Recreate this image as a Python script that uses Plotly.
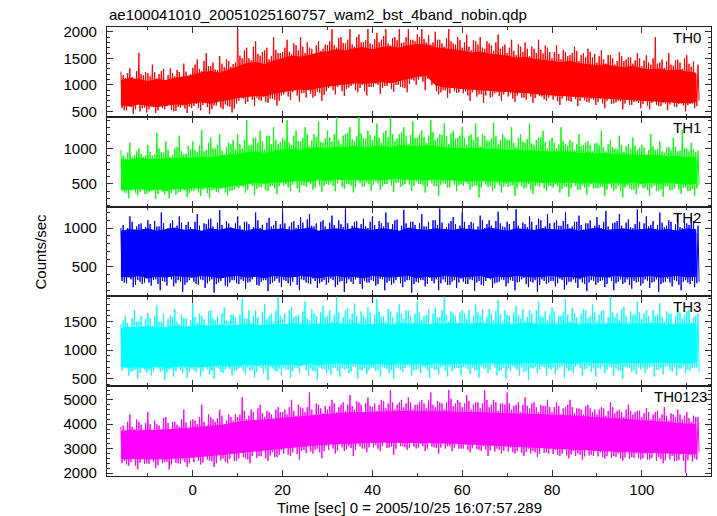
import plotly.graph_objects as go
from plotly.subplots import make_subplots

# Time grid: first second of each 1-s block (data run from -16 s to 112 s)
t_start = -16
n_sec = 129
core_step = 2  # core envelope sampled every 2 s
n_core = 65

# ---------------- TH0 ----------------
th0_hi = [1250, 1130, 1310, 1090, 1600, 1180,
          1220, 1380, 1120, 1260, 1090, 1310, 1160, 1240, 1400, 1150,
          1320, 1480, 1260, 1600, 1350, 1290, 1540, 1330, 1450, 1390,
          2050, 1500, 1700, 1460, 1820, 1550, 1650, 1480, 1900, 1600,
          1620, 1850, 1580, 1750, 1900, 1600, 1700, 1560, 1820, 1680,
          1750, 2050, 1700, 1900, 1780, 2050, 1720, 1950, 1800, 2050,
          1760, 1980, 1850, 2050, 1740, 1900, 2050, 1800, 2050, 1850,
          1950, 2050, 1800, 1760, 2000, 1850, 1720, 2050, 1780, 1900,
          1700, 1950, 1650, 1820, 1900, 1680, 1780, 1640, 1950, 1720,
          1600, 1850, 1560, 1720, 1800, 1540, 1680, 1850, 1590, 1700,
          1500, 1750, 1480, 1620, 1560, 1720, 1450, 1600, 1680, 1520,
          1420, 1650, 1400, 1560, 1380, 1620, 1450, 1520, 1400, 1600,
          1350, 1560, 1380, 1900, 1420, 1320, 1600, 1360, 1480, 1300, 1560, 1340, 1200]
th0_hi2 = [1180, 1220, 1150, 1260, 1200, 1240,
           1160, 1240, 1200, 1300, 1180, 1220, 1280, 1150, 1250, 1200,
           1380, 1300, 1450, 1350, 1420, 1280, 1400, 1480, 1340, 1420,
           1550, 1650, 1500, 1720, 1580, 1620, 1700, 1540, 1660, 1600,
           1700, 1620, 1780, 1650, 1720, 1800, 1680, 1740, 1640, 1760,
           1820, 1750, 1880, 1790, 1850, 1760, 1900, 1800, 1840, 1780,
           1860, 1800, 1920, 1780, 1880, 1840, 1790, 1900, 1850, 1820,
           1900, 1860, 1940, 1800, 1850, 1780, 1880, 1820, 1760, 1840,
           1800, 1720, 1840, 1760, 1700, 1820, 1740, 1800, 1680, 1760,
           1700, 1640, 1760, 1620, 1680, 1720, 1600, 1660, 1740, 1620,
           1620, 1580, 1660, 1540, 1600, 1640, 1560, 1520, 1620, 1580,
           1540, 1480, 1560, 1500, 1450, 1540, 1480, 1520, 1460, 1500,
           1460, 1420, 1500, 1400, 1480, 1440, 1380, 1460, 1420, 1500, 1400, 1440, 1380]
th0_lo = [520, 600, 450, 640, 560, 480,
          590, 470, 620, 540, 650, 500, 580, 610, 470, 560,
          640, 520, 700, 450, 610, 680, 540, 600, 480, 650,
          760, 640, 800, 600, 720, 780, 660, 740, 610, 800,
          880, 720, 920, 680, 850, 900, 760, 870, 700, 880,
          980, 820, 1040, 790, 950, 1010, 860, 1000, 800, 960,
          1020, 830, 980, 1050, 870, 1000, 950, 860, 1100, 1000,
          1150, 900, 1120, 1180, 820, 900, 760, 940, 850, 980,
          880, 700, 920, 820, 660, 900, 780, 860, 700, 890,
          840, 680, 860, 760, 900, 660, 820, 780, 700, 850,
          780, 620, 800, 700, 820, 600, 760, 680, 740, 620,
          740, 560, 760, 650, 700, 540, 730, 620, 690, 560,
          690, 540, 700, 600, 660, 520, 680, 580, 650, 500, 640, 560, 700]
th0_lo2 = [560, 520, 580, 540, 500, 570,
           540, 580, 520, 560, 600, 530, 510, 570, 550, 590,
           600, 560, 620, 580, 540, 610, 570, 630, 590, 550,
           700, 740, 680, 720, 760, 700, 680, 740, 720, 700,
           820, 780, 860, 800, 840, 760, 830, 790, 850, 810,
           940, 900, 960, 880, 920, 980, 900, 940, 880, 960,
           960, 1000, 940, 980, 920, 1000, 960, 940, 1020, 1080,
           1100, 1060, 1120, 1000, 880, 860, 900, 840, 880, 860,
           840, 800, 860, 780, 820, 800, 760, 840, 790, 820,
           780, 740, 800, 760, 720, 780, 750, 790, 730, 760,
           720, 690, 740, 700, 680, 730, 700, 710, 670, 720,
           680, 650, 700, 640, 670, 690, 650, 620, 680, 660,
           640, 610, 660, 620, 600, 650, 630, 590, 640, 610, 620, 650, 600]
th0_core_hi = [1080, 1120, 1100, 1060, 1100, 1080, 1120, 1150,
               1180, 1230, 1250, 1220, 1280, 1350, 1400, 1420, 1380, 1450,
               1500, 1540, 1520, 1560, 1600, 1620, 1660, 1640, 1680, 1700,
               1660, 1700, 1720, 1690, 1740, 1760, 1750, 1700, 1680, 1660,
               1640, 1600, 1620, 1580, 1560, 1540, 1500, 1520, 1480, 1460,
               1440, 1420, 1440, 1400, 1380, 1360, 1380, 1340, 1320, 1350,
               1300, 1280, 1300, 1260, 1280, 1240, 1220]
th0_core_lo = [620, 600, 640, 610, 590, 620, 640, 630,
               660, 680, 650, 700, 720, 760, 780, 800, 790, 840,
               870, 900, 920, 910, 950, 980, 1000, 1020, 1040, 1030,
               1050, 1060, 1040, 1080, 1120, 1160, 1180, 1000, 960, 950,
               930, 920, 900, 890, 880, 870, 860, 850, 840, 820,
               800, 790, 780, 770, 760, 760, 750, 740, 730, 720,
               710, 700, 690, 680, 670, 660, 680]

# ---------------- TH1 ----------------
th1_hi = [980, 860, 1080, 900, 1000, 880,
          1050, 900, 1220, 950, 1100, 880, 1000, 1180, 920, 1040,
          1100, 950, 1260, 980, 1150, 1000, 1200, 920, 1080, 1120,
          1200, 1000, 1400, 1050, 1150, 1250, 990, 1180, 1300, 1060,
          1150, 1400, 1050, 1250, 1100, 1300, 1030, 1200, 1380, 1080,
          1250, 1100, 1440, 1060, 1200, 1300, 1100, 1440, 1150, 1250,
          1120, 1350, 1080, 1250, 1440, 1100, 1200, 1300, 1060, 1380,
          1150, 1250, 1080, 1400, 1120, 1200, 1350, 1060, 1250, 1150,
          1300, 1050, 1200, 1350, 1030, 1180, 1100, 1360, 1060, 1200,
          1120, 1300, 1020, 1200, 1080, 1350, 1050, 1150, 1250, 1000,
          1150, 1000, 1300, 1060, 1120, 980, 1200, 1050, 1100, 960,
          1080, 1250, 960, 1120, 1000, 1180, 950, 1060, 1150, 980,
          1050, 920, 1200, 980, 1100, 940, 1020, 1150, 960, 1260, 1000, 1080, 950]
th1_hi2 = [900, 940, 880, 960, 920, 900,
           950, 920, 1000, 940, 980, 910, 1020, 960, 930, 990,
           980, 1040, 960, 1080, 1000, 1050, 970, 1020, 1060, 990,
           1060, 1120, 1040, 1150, 1080, 1100, 1180, 1060, 1120, 1090,
           1120, 1080, 1180, 1100, 1150, 1200, 1110, 1160, 1090, 1140,
           1150, 1200, 1120, 1180, 1220, 1130, 1170, 1210, 1140, 1190,
           1180, 1150, 1220, 1160, 1200, 1140, 1230, 1170, 1190, 1150,
           1200, 1160, 1180, 1230, 1150, 1190, 1170, 1210, 1140, 1180,
           1150, 1180, 1120, 1160, 1200, 1110, 1140, 1170, 1120, 1150,
           1120, 1080, 1150, 1100, 1130, 1070, 1120, 1160, 1090, 1110,
           1080, 1050, 1100, 1040, 1090, 1060, 1030, 1080, 1050, 1070,
           1040, 1010, 1060, 1020, 990, 1050, 1030, 1000, 1040, 1010,
           1010, 980, 1030, 990, 960, 1010, 980, 1020, 970, 1000, 960, 990, 970]
th1_lo = [380, 300, 450, 340, 420, 360,
          400, 290, 440, 350, 300, 420, 380, 460, 320, 400,
          430, 330, 470, 300, 420, 380, 450, 340, 410, 460,
          470, 380, 520, 340, 460, 500, 400, 480, 360, 520,
          500, 400, 540, 380, 480, 520, 420, 560, 390, 500,
          520, 400, 560, 430, 500, 380, 540, 460, 520, 410,
          540, 420, 500, 560, 390, 520, 470, 560, 400, 530,
          500, 380, 560, 470, 330, 520, 450, 560, 400, 500,
          520, 420, 480, 310, 540, 460, 400, 520, 380, 500,
          480, 330, 520, 440, 500, 360, 480, 540, 400, 470,
          500, 380, 460, 320, 520, 420, 480, 350, 500, 440,
          460, 330, 500, 400, 470, 310, 480, 420, 360, 500,
          450, 340, 480, 400, 320, 470, 420, 500, 360, 450, 400, 330, 480]
th1_lo2 = [400, 370, 410, 380, 390, 360,
           380, 410, 360, 390, 400, 370, 350, 390, 410, 370,
           400, 380, 420, 370, 410, 390, 430, 380, 400, 420,
           440, 460, 420, 470, 430, 450, 410, 460, 440, 470,
           470, 450, 490, 440, 480, 460, 500, 450, 480, 470,
           490, 470, 510, 460, 500, 480, 450, 510, 470, 500,
           490, 510, 470, 500, 480, 520, 460, 500, 490, 470,
           500, 480, 460, 510, 470, 490, 500, 450, 490, 480,
           470, 500, 460, 480, 450, 490, 470, 440, 480, 460,
           460, 480, 440, 470, 450, 420, 470, 460, 440, 470,
           450, 470, 430, 460, 440, 470, 420, 450, 460, 430,
           440, 460, 420, 450, 430, 400, 450, 440, 420, 450,
           440, 420, 450, 400, 430, 460, 410, 440, 420, 450, 400, 430, 440]
th1_core_hi = [840, 830, 860, 850, 840, 860, 850, 870,
               860, 880, 870, 890, 900, 920, 940, 950, 930, 960,
               980, 990, 970, 1000, 1010, 1000, 1020, 1010, 1030, 1010,
               1020, 1030, 1010, 1040, 1030, 1020, 1040, 1020, 1010, 1000,
               1000, 990, 1000, 980, 990, 970, 980, 960, 970, 950,
               950, 940, 950, 930, 940, 920, 930, 910, 920, 900,
               900, 890, 900, 880, 890, 870, 880]
th1_core_lo = [430, 420, 440, 420, 430, 410, 440, 430,
               450, 440, 460, 450, 470, 490, 500, 520, 510, 530,
               530, 540, 550, 540, 560, 550, 570, 560, 570, 560,
               570, 560, 570, 580, 560, 570, 560, 570, 560, 550,
               550, 540, 550, 540, 550, 530, 540, 530, 540, 520,
               530, 520, 530, 510, 520, 520, 510, 520, 510, 520,
               510, 520, 510, 520, 510, 500, 510]

# ---------------- TH2 ----------------
th2_hi = [1000, 880, 1150, 920, 1050, 960,
          1100, 900, 1020, 1200, 940, 1060, 880, 1150, 980, 1080,
          950, 1180, 900, 1050, 1120, 930, 1230, 990, 1060, 920,
          1150, 980, 1080, 900, 1200, 1000, 940, 1130, 1040, 960,
          1220, 950, 1070, 1000, 1140, 900, 1180, 1020, 960, 1100,
          980, 1160, 920, 1050, 1250, 970, 1080, 940, 1120, 1000,
          1150, 930, 1060, 1200, 980, 1100, 900, 1230, 1000, 1080,
          950, 1180, 1020, 920, 1100, 1250, 960, 1060, 1140, 990,
          1200, 960, 1080, 930, 1160, 1000, 1100, 940, 1210, 1020,
          1080, 920, 1240, 990, 1050, 1150, 940, 1120, 1000, 1180,
          960, 1100, 1030, 1200, 920, 1080, 1160, 980, 1060, 930,
          1140, 1000, 1220, 950, 1070, 1180, 940, 1110, 1000, 1240,
          980, 1150, 1040, 920, 1200, 1010, 1100, 960, 1180, 1000, 1060, 1140, 940]
th2_hi2 = [1040, 1000, 1080, 1020, 1060, 1010,
           1050, 1090, 1020, 1060, 1000, 1100, 1030, 1070, 1040, 1010,
           1080, 1030, 1060, 1110, 1020, 1070, 1040, 1090, 1010, 1060,
           1030, 1080, 1050, 1010, 1100, 1040, 1070, 1020, 1090, 1050,
           1060, 1020, 1090, 1040, 1070, 1110, 1030, 1060, 1080, 1020,
           1070, 1040, 1100, 1010, 1060, 1030, 1090, 1050, 1020, 1080,
           1040, 1090, 1020, 1070, 1050, 1110, 1030, 1060, 1080, 1040,
           1060, 1020, 1080, 1100, 1040, 1070, 1010, 1090, 1050, 1030,
           1080, 1040, 1060, 1020, 1100, 1050, 1030, 1090, 1060, 1010,
           1050, 1090, 1030, 1070, 1010, 1080, 1040, 1100, 1020, 1060,
           1070, 1030, 1090, 1050, 1020, 1080, 1040, 1060, 1100, 1030,
           1040, 1080, 1020, 1060, 1090, 1030, 1070, 1010, 1050, 1080,
           1060, 1020, 1090, 1040, 1070, 1030, 1080, 1050, 1010, 1070, 1040, 1090, 1030]
th2_lo = [300, 380, 240, 330, 280, 350,
          260, 340, 200, 310, 370, 250, 330, 180, 300, 360,
          280, 340, 230, 320, 170, 300, 360, 250, 330, 290,
          340, 220, 310, 380, 260, 330, 190, 300, 350, 240,
          320, 260, 370, 200, 330, 290, 350, 230, 310, 270,
          350, 240, 310, 180, 340, 280, 360, 220, 300, 330,
          260, 350, 200, 320, 290, 370, 240, 330, 170, 310,
          330, 250, 360, 290, 200, 340, 270, 310, 230, 350,
          280, 340, 190, 320, 260, 370, 230, 300, 340, 250,
          330, 200, 310, 360, 240, 300, 180, 340, 280, 320,
          250, 350, 210, 310, 340, 230, 300, 190, 330, 270,
          320, 240, 360, 200, 310, 280, 340, 220, 300, 260,
          340, 230, 310, 180, 300, 350, 250, 320, 200, 330, 280, 240, 310]
th2_lo2 = [320, 290, 340, 270, 310, 300,
           300, 330, 280, 320, 260, 340, 290, 310, 270, 330,
           310, 270, 330, 290, 340, 280, 320, 260, 300, 330,
           280, 320, 300, 340, 270, 310, 330, 280, 320, 300,
           330, 290, 310, 270, 340, 300, 280, 320, 290, 330,
           300, 330, 270, 320, 290, 310, 340, 280, 320, 300,
           320, 280, 340, 300, 270, 330, 290, 310, 330, 280,
           300, 330, 280, 320, 340, 290, 310, 270, 330, 300,
           310, 280, 330, 300, 270, 320, 340, 290, 310, 330,
           290, 320, 300, 340, 280, 310, 330, 270, 320, 300,
           320, 290, 330, 270, 310, 300, 340, 280, 300, 320,
           300, 330, 280, 320, 290, 340, 300, 270, 320, 310,
           290, 320, 300, 340, 280, 310, 300, 330, 270, 310, 300, 320, 290]
th2_core_hi = [960, 980, 970, 990, 960, 980, 1000, 970,
               980, 960, 990, 970, 1000, 980, 960, 990, 970, 980,
               990, 970, 980, 1000, 960, 980, 990, 970, 1000, 980,
               970, 990, 980, 960, 1000, 980, 970, 990, 980, 970,
               990, 980, 970, 1000, 980, 960, 990, 980, 970, 990,
               980, 970, 990, 960, 980, 1000, 970, 980, 990, 970,
               980, 990, 970, 980, 960, 990, 980]
th2_core_lo = [380, 370, 390, 360, 380, 370, 390, 380,
               370, 390, 380, 360, 380, 390, 370, 380, 360, 390,
               380, 370, 390, 380, 360, 380, 390, 370, 380, 360,
               390, 380, 370, 380, 390, 360, 380, 370, 390, 380,
               370, 380, 390, 360, 380, 370, 390, 380, 370, 380,
               390, 370, 380, 360, 390, 380, 370, 390, 380, 370,
               380, 390, 370, 380, 390, 370, 380]

# ---------------- TH3 ----------------
th3_hi = [1450, 1600, 1380, 1700, 1500, 1420,
          1650, 1420, 1780, 1500, 1380, 1600, 1720, 1450, 1560, 1400,
          1820, 1480, 1600, 1400, 1700, 1520, 1450, 1750, 1500, 1620,
          1450, 1900, 1550, 1480, 1700, 1420, 1800, 1600, 1500, 1940,
          1550, 1450, 1750, 1600, 1480, 1850, 1520, 1650, 1420, 1780,
          1600, 1500, 1940, 1460, 1700, 1550, 1820, 1480, 1620, 1750,
          1450, 1900, 1580, 1500, 1680, 1420, 1800, 1550, 1700, 1480,
          1850, 1520, 1620, 1460, 1750, 1580, 1940, 1500, 1640, 1430,
          1700, 1550, 1480, 1800, 1600, 1450, 1720, 1520, 1880, 1500,
          1620, 1440, 1780, 1560, 1500, 1700, 1450, 1850, 1580, 1520,
          1750, 1480, 1600, 1900, 1500, 1650, 1420, 1720, 1560, 1800,
          1500, 1680, 1450, 1940, 1580, 1520, 1760, 1480, 1620, 1850,
          1550, 1700, 1480, 1600, 1820, 1500, 1640, 1450, 1750, 1560, 1680, 1480, 1600]
th3_hi2 = [1520, 1480, 1560, 1500, 1600, 1540,
           1560, 1600, 1500, 1640, 1540, 1580, 1500, 1620, 1560, 1520,
           1580, 1640, 1540, 1680, 1560, 1600, 1650, 1520, 1620, 1580,
           1620, 1560, 1700, 1600, 1580, 1660, 1540, 1640, 1700, 1600,
           1640, 1700, 1580, 1620, 1680, 1560, 1720, 1600, 1660, 1580,
           1700, 1620, 1660, 1580, 1740, 1640, 1600, 1680, 1560, 1660,
           1620, 1680, 1600, 1720, 1580, 1660, 1640, 1700, 1600, 1640,
           1660, 1600, 1720, 1640, 1580, 1700, 1620, 1680, 1600, 1660,
           1640, 1700, 1600, 1660, 1720, 1580, 1640, 1680, 1620, 1700,
           1600, 1660, 1620, 1720, 1580, 1640, 1700, 1600, 1680, 1620,
           1680, 1600, 1660, 1620, 1740, 1580, 1640, 1700, 1600, 1660,
           1620, 1700, 1580, 1660, 1640, 1720, 1600, 1680, 1620, 1660,
           1640, 1600, 1700, 1620, 1580, 1680, 1640, 1600, 1660, 1620, 1700, 1580, 1640]
th3_lo = [700, 560, 640, 500, 680, 600,
          560, 720, 620, 480, 660, 540, 700, 600, 520, 680,
          620, 540, 720, 580, 500, 680, 600, 740, 560, 650,
          700, 580, 640, 520, 720, 600, 480, 680, 620, 560,
          660, 520, 700, 600, 740, 560, 640, 490, 680, 600,
          580, 700, 540, 660, 600, 720, 500, 640, 580, 700,
          640, 540, 700, 600, 500, 680, 620, 740, 560, 660,
          600, 700, 520, 660, 580, 720, 540, 640, 690, 560,
          700, 580, 640, 520, 680, 600, 740, 560, 650, 500,
          640, 700, 560, 620, 480, 680, 600, 720, 560, 660,
          580, 700, 520, 640, 600, 740, 560, 680, 620, 540,
          680, 600, 720, 560, 640, 500, 700, 620, 580, 660,
          600, 700, 540, 660, 580, 720, 620, 560, 680, 600, 640, 700, 620]
th3_lo2 = [640, 680, 620, 660, 600, 650,
           660, 620, 680, 640, 610, 670, 630, 650, 690, 620,
           650, 690, 630, 670, 640, 700, 620, 660, 680, 640,
           680, 640, 700, 660, 620, 690, 650, 710, 640, 680,
           700, 660, 640, 690, 720, 650, 680, 630, 700, 670,
           660, 700, 640, 690, 670, 630, 710, 660, 690, 650,
           690, 650, 710, 670, 640, 700, 660, 690, 720, 650,
           680, 720, 650, 690, 660, 700, 640, 710, 670, 690,
           710, 670, 690, 650, 720, 680, 660, 700, 640, 690,
           680, 720, 660, 700, 640, 690, 710, 660, 700, 680,
           700, 660, 720, 680, 650, 710, 690, 660, 720, 680,
           690, 720, 660, 700, 680, 640, 710, 690, 660, 700,
           700, 670, 720, 660, 690, 710, 650, 700, 680, 720, 660, 690, 700]
th3_core_hi = [1380, 1400, 1390, 1410, 1380, 1400, 1420, 1400,
               1410, 1430, 1420, 1440, 1420, 1430, 1450, 1440, 1430, 1450,
               1440, 1460, 1450, 1440, 1460, 1450, 1470, 1450, 1460, 1440,
               1450, 1460, 1440, 1470, 1450, 1460, 1440, 1460, 1450, 1470,
               1460, 1450, 1470, 1460, 1440, 1460, 1450, 1470, 1460, 1450,
               1460, 1440, 1470, 1450, 1460, 1440, 1460, 1470, 1450, 1460,
               1450, 1470, 1460, 1440, 1460, 1450, 1460]
th3_core_lo = [720, 700, 710, 690, 720, 700, 710, 730,
               720, 710, 730, 740, 720, 730, 750, 740, 760, 740,
               750, 760, 740, 770, 750, 760, 780, 760, 770, 750,
               760, 770, 750, 780, 760, 770, 750, 780, 760, 770,
               780, 760, 770, 790, 770, 780, 760, 790, 780, 770,
               780, 790, 770, 780, 800, 780, 790, 770, 790, 780,
               790, 780, 800, 780, 790, 770, 790]

# ---------------- TH0123 ----------------
th0123_hi = [3900, 3700, 4400, 3800, 4100, 3750,
             4500, 3700, 4000, 3800, 4300, 3650, 4100, 3900, 4600, 3800,
             4200, 4000, 4800, 3900, 4300, 4100, 4600, 3950, 4400, 4150,
             4300, 5100, 4200, 4600, 4150, 4800, 4300, 4500, 4200, 4700,
             4500, 4400, 5000, 4350, 4700, 4500, 5300, 4400, 4800, 4450,
             4600, 5000, 4500, 4800, 4550, 5200, 4600, 4900, 4500, 5100,
             4700, 4550, 5000, 4650, 5400, 4600, 4900, 4700, 5100, 4600,
             4800, 5000, 4650, 5300, 4700, 4900, 4600, 5400, 4750, 5000,
             4700, 5200, 4600, 4900, 4650, 5400, 4700, 5000, 4550, 4850,
             5300, 4600, 4800, 4500, 5100, 4650, 4900, 4500, 4750, 5000,
             4500, 4900, 4400, 4700, 5000, 4450, 4650, 4400, 4800, 4500,
             4400, 4700, 4350, 4900, 4450, 4600, 4300, 4800, 4400, 4550,
             4300, 4650, 4200, 4500, 4250, 4700, 4150, 4400, 4600, 4200, 4500, 4100, 4300]
th0123_hi2 = [3950, 4100, 3900, 4200, 3980, 4050,
              4000, 4150, 3950, 4250, 4050, 4100, 3980, 4200, 4080, 4150,
              4150, 4300, 4100, 4400, 4200, 4250, 4350, 4150, 4300, 4400,
              4400, 4550, 4350, 4500, 4650, 4450, 4550, 4400, 4600, 4500,
              4600, 4700, 4550, 4800, 4650, 4700, 4600, 4850, 4650, 4750,
              4750, 4850, 4700, 4900, 4800, 4750, 4950, 4800, 4850, 4750,
              4850, 4800, 4950, 4850, 4900, 4800, 5000, 4850, 4900, 4800,
              4900, 4850, 5000, 4800, 4950, 4850, 4900, 5050, 4850, 4900,
              4850, 4950, 4800, 4900, 4850, 5000, 4800, 4900, 4850, 4800,
              4850, 4750, 4900, 4800, 4750, 4850, 4700, 4800, 4750, 4700,
              4700, 4750, 4650, 4800, 4700, 4650, 4600, 4750, 4650, 4600,
              4600, 4650, 4550, 4700, 4550, 4500, 4600, 4550, 4500, 4550,
              4450, 4500, 4400, 4550, 4400, 4350, 4450, 4300, 4400, 4350, 4250, 4350, 4300]
th0123_lo = [2500, 2300, 2700, 2150, 2600, 2400,
             2600, 2200, 2700, 2450, 2150, 2650, 2400, 2550, 2250, 2700,
             2700, 2350, 2800, 2500, 2250, 2750, 2600, 2400, 2850, 2500,
             2900, 2600, 2400, 2950, 2700, 3000, 2500, 2850, 2650, 2950,
             3050, 2700, 3100, 2550, 2950, 3150, 2800, 3000, 2600, 3100,
             3200, 2800, 3250, 2900, 3100, 2700, 3200, 3000, 2850, 3250,
             3150, 2900, 3300, 3050, 2750, 3250, 3100, 2950, 3300, 3000,
             3200, 2900, 3250, 3050, 2800, 3300, 3100, 2900, 3200, 3000,
             3150, 2850, 3200, 2950, 3100, 2700, 3150, 3000, 2800, 3100,
             3050, 2800, 3100, 2700, 3000, 2900, 2650, 3050, 2850, 3000,
             2950, 2700, 3000, 2600, 2900, 2800, 2550, 2950, 2750, 2900,
             2850, 2600, 2950, 2700, 2800, 2500, 2900, 2650, 2800, 2550,
             2800, 2550, 2900, 2650, 2400, 2850, 2700, 2500, 2800, 2000, 2750, 2600, 2850]
th0123_lo2 = [2400, 2350, 2450, 2300, 2420, 2380,
              2380, 2450, 2320, 2400, 2460, 2350, 2420, 2380, 2440, 2400,
              2450, 2500, 2420, 2550, 2480, 2400, 2520, 2460, 2580, 2500,
              2600, 2650, 2550, 2700, 2620, 2680, 2600, 2720, 2650, 2750,
              2800, 2750, 2850, 2780, 2900, 2820, 2880, 2950, 2850, 2900,
              2950, 3000, 2900, 3050, 2980, 3020, 2950, 3080, 3000, 3050,
              3050, 3000, 3100, 3020, 3080, 3000, 3100, 3050, 3020, 3080,
              3050, 3100, 3000, 3080, 3020, 3050, 3000, 3100, 3020, 3000,
              3000, 2950, 3020, 2980, 2900, 2960, 2920, 2880, 2950, 2900,
              2880, 2850, 2900, 2820, 2860, 2800, 2850, 2780, 2820, 2800,
              2780, 2750, 2800, 2720, 2760, 2700, 2740, 2680, 2720, 2700,
              2680, 2650, 2700, 2620, 2660, 2600, 2640, 2580, 2620, 2600,
              2600, 2550, 2620, 2500, 2580, 2520, 2560, 2480, 2540, 2500, 2520, 2480, 2550]
th0123_core_hi = [3700, 3750, 3720, 3760, 3740, 3780, 3800, 3820,
                  3850, 3880, 3900, 3950, 4000, 4080, 4120, 4150, 4180, 4220,
                  4260, 4300, 4330, 4360, 4380, 4420, 4440, 4460, 4470, 4480,
                  4500, 4490, 4520, 4500, 4530, 4510, 4520, 4500, 4510, 4490,
                  4500, 4480, 4470, 4460, 4450, 4440, 4430, 4420, 4410, 4400,
                  4380, 4360, 4340, 4320, 4300, 4280, 4250, 4220, 4200, 4170,
                  4140, 4100, 4080, 4050, 4030, 4000, 3980]
th0123_core_lo = [2600, 2580, 2560, 2580, 2570, 2590, 2600, 2620,
                  2650, 2680, 2700, 2740, 2780, 2830, 2870, 2900, 2940, 2980,
                  3020, 3060, 3100, 3130, 3160, 3180, 3200, 3220, 3240, 3250,
                  3260, 3270, 3260, 3280, 3270, 3260, 3250, 3240, 3230, 3220,
                  3200, 3180, 3160, 3150, 3130, 3110, 3090, 3070, 3060, 3050,
                  3030, 3010, 2990, 2970, 2950, 2930, 2910, 2890, 2870, 2850,
                  2840, 2830, 2820, 2810, 2800, 2790, 2780]

band_names = ["TH0", "TH1", "TH2", "TH3", "TH0123"]
band_colors = ["#ff0000", "#00ff00", "#0000ff", "#00ffff", "#ff00ff"]
band_hi = [th0_hi, th1_hi, th2_hi, th3_hi, th0123_hi]
band_hi2 = [th0_hi2, th1_hi2, th2_hi2, th3_hi2, th0123_hi2]
band_lo = [th0_lo, th1_lo, th2_lo, th3_lo, th0123_lo]
band_lo2 = [th0_lo2, th1_lo2, th2_lo2, th3_lo2, th0123_lo2]
band_core_hi = [th0_core_hi, th1_core_hi, th2_core_hi, th3_core_hi, th0123_core_hi]
band_core_lo = [th0_core_lo, th1_core_lo, th2_core_lo, th3_core_lo, th0123_core_lo]
y_ranges = [[398, 2090], [182, 1445], [121, 1276], [372, 1940], [1877, 5560]]
y_dticks = [500, 500, 500, 500, 1000]
y_minor = [100, 100, 100, 100, 200]
label_x = [703, 703, 703, 703, 709]

title_text = "ae100041010_20051025160757_wam2_bst_4band_nobin.qdp"
x_title = "Time [sec] 0 = 2005/10/25 16:07:57.289"
y_title = "Counts/sec"

W, H = 717, 516
ML, MR, MT, MB = 107, 6, 27, 40
x_range = [-19.1, 115.4]
FONT = "Liberation Sans, Arial, sans-serif"

fig = make_subplots(rows=5, cols=1, shared_xaxes=True, vertical_spacing=0)

for i in range(5):
    # dense core of the light curve as a filled band
    cx = [t_start + core_step * k for k in range(n_core)]
    bx = cx + cx[::-1]
    by = band_core_hi[i] + band_core_lo[i][::-1]
    fig.add_trace(go.Scatter(x=bx, y=by, mode="lines", fill="toself",
                             fillcolor=band_colors[i],
                             line=dict(color=band_colors[i], width=1),
                             showlegend=False, hoverinfo="skip"),
                  row=i + 1, col=1)
    # quarter-second alternation of extremes: hi, lo2, hi2, lo
    xs, ys = [], []
    for k in range(n_sec):
        t = t_start + k
        xs += [t, t + 0.25, t + 0.5, t + 0.75]
        ys += [band_hi[i][k], band_lo2[i][k], band_hi2[i][k], band_lo[i][k]]
    fig.add_trace(go.Scatter(x=xs, y=ys, mode="lines",
                             line=dict(color=band_colors[i], width=1),
                             showlegend=False, hoverinfo="skip"),
                  row=i + 1, col=1)
    fig.update_yaxes(range=y_ranges[i], dtick=y_dticks[i], tick0=0,
                     minor=dict(dtick=y_minor[i], ticks="inside", ticklen=3,
                                tickcolor="#333"),
                     row=i + 1, col=1)
    plot_w = W - ML - MR
    xval = x_range[0] + (label_x[i] - ML) / plot_w * (x_range[1] - x_range[0])
    fig.add_annotation(text=band_names[i], x=xval, xanchor="right",
                       xref="x" if i == 0 else f"x{i+1}",
                       y=1 - 10.5 / 89.8, yanchor="middle",
                       yref="y domain" if i == 0 else f"y{i+1} domain",
                       showarrow=False, font=dict(size=15, color="black", family=FONT))

fig.update_xaxes(range=x_range, dtick=20, tick0=0, ticks="inside", ticklen=6,
                 tickcolor="#333", showline=True, linecolor="#222", linewidth=1.2,
                 mirror="ticks", showgrid=False, zeroline=False,
                 minor=dict(dtick=10, ticks="inside", ticklen=3, tickcolor="#333"),
                 tickfont=dict(size=15, color="black", family=FONT))
fig.update_yaxes(ticks="inside", ticklen=6, tickcolor="#333", showline=True,
                 linecolor="#222", linewidth=1.2, mirror="ticks", showgrid=False,
                 zeroline=False, ticklabelstandoff=6,
                 tickfont=dict(size=15, color="black", family=FONT))
fig.update_xaxes(showticklabels=True, ticklabelstandoff=0, row=5, col=1)

fig.add_annotation(text=title_text, xref="paper", yref="paper", x=0, y=1,
                   xanchor="left", yanchor="bottom", yshift=2, showarrow=False,
                   font=dict(size=15, color="black", family=FONT))
fig.add_annotation(text=x_title, xref="paper", yref="paper", x=0.5, y=0,
                   xanchor="center", yanchor="middle", yshift=-31, showarrow=False,
                   font=dict(size=15, color="black", family=FONT))
fig.add_annotation(text=y_title, xref="paper", yref="paper", x=0, y=0.5,
                   xanchor="center", yanchor="middle", xshift=-67, textangle=-90,
                   showarrow=False, font=dict(size=15, color="black", family=FONT))

fig.update_layout(width=W, height=H, margin=dict(l=ML, r=MR, t=MT, b=MB),
                  plot_bgcolor="white", paper_bgcolor="white",
                  font=dict(family=FONT, color="black"))

fig.write_html("out.html", config={"displayModeBar": False},
               post_script="document.body.style.margin='0px';"
                           "document.documentElement.style.overflow='hidden';")
